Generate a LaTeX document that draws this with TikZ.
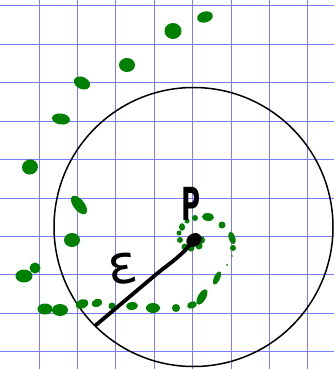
\documentclass[tikz,border=0pt]{standalone}
\usepackage{fontspec}
\usetikzlibrary{shapes.geometric}
\newfontfamily\dvs{DejaVu Sans}
\begin{document}
\begin{tikzpicture}[x=1pt,y=-1pt,
  gridline/.style={draw=blue!52,line width=1pt},
  gdot/.style={fill=green!50!black},
  ring/.style={draw=black,line width=1.5pt},
  marker/.style={draw=black,line width=3.8pt,line cap=round,line join=round},
  hand/.style={inner sep=0pt,text=black}]
\useasboundingbox (0,0) rectangle (334,369);
\fill[white] (0,0) rectangle (334,369);
% grid
\foreach \i in {0,...,7} {
  \draw[gridline] ({39+38.4*\i},0) -- ({39+38.4*\i},369);
}
\foreach \j in {0,...,9} {
  \draw[gridline] (0,{6+38.4*\j}) -- (334,{6+38.4*\j});
}
% circle
\draw[ring] (193.5,227) circle [radius=139.5];
% green trail
\foreach \x/\y/\a/\b/\r in {
  205/17/8/5.5/15, 173/31/8.5/8/0, 127/65/8/7/0, 82/83/8.5/6/-25,
  61/119/9/5.5/-8, 30/167/8/7.5/20, 79/205/11/5.5/-52, 72/240/8/7/0,
  24/276/8.5/6.5/0, 35/268/5.5/5.5/0, 45/309/7.5/5.5/0, 60/310/8/6/0,
  82/304/6.5/4.5/20, 97/303/5.5/4/20, 112/306/3.5/3.5/0, 132/306/6/4/5,
  153/308/7/5/0, 176/308/4/4/0, 192/305/5/3.5/20, 202/297/8.5/4/60,
  217/278/7/3/65, 227/265/1/1/0, 232/256/0.8/0.8/0, 233/248/3/3/0,
  232/238/6.5/3.2/-72, 222/225/3.5/3.5/0, 208/217/6/4/-5, 195/218/3/3/0,
  187/221/2.5/2.5/0, 182/227/3/3.8/0, 179/233/2.5/2.5/0, 180/240/3/3/0,
  185/247/3.5/3.5/0, 191/248/3.5/3.5/0, 201/240/4/4/0, 199/246/3.5/3.5/0} {
  \fill[gdot,rotate around={\r:(\x,\y)}] (\x,\y) ellipse [x radius=\a, y radius=\b];
}
% point P and epsilon segment
\node[fill=black,ellipse,minimum width=16pt,minimum height=13pt,inner sep=0pt,rotate=30] (p) at (194,240) {};
\coordinate (e) at (96,325);
\draw[marker] (p.center) .. controls (180,258) and (168,264) .. (153,277) -- (e);
\node[hand,font=\dvs\bfseries\fontsize{26}{26}\selectfont] (plabel) at (191,204) {\scalebox{1}[1.75]{P}};
\node[hand,font=\dvs\fontsize{54}{54}\selectfont,rotate=8] (eps) at (123,269) {ε};
\end{tikzpicture}
\end{document}
